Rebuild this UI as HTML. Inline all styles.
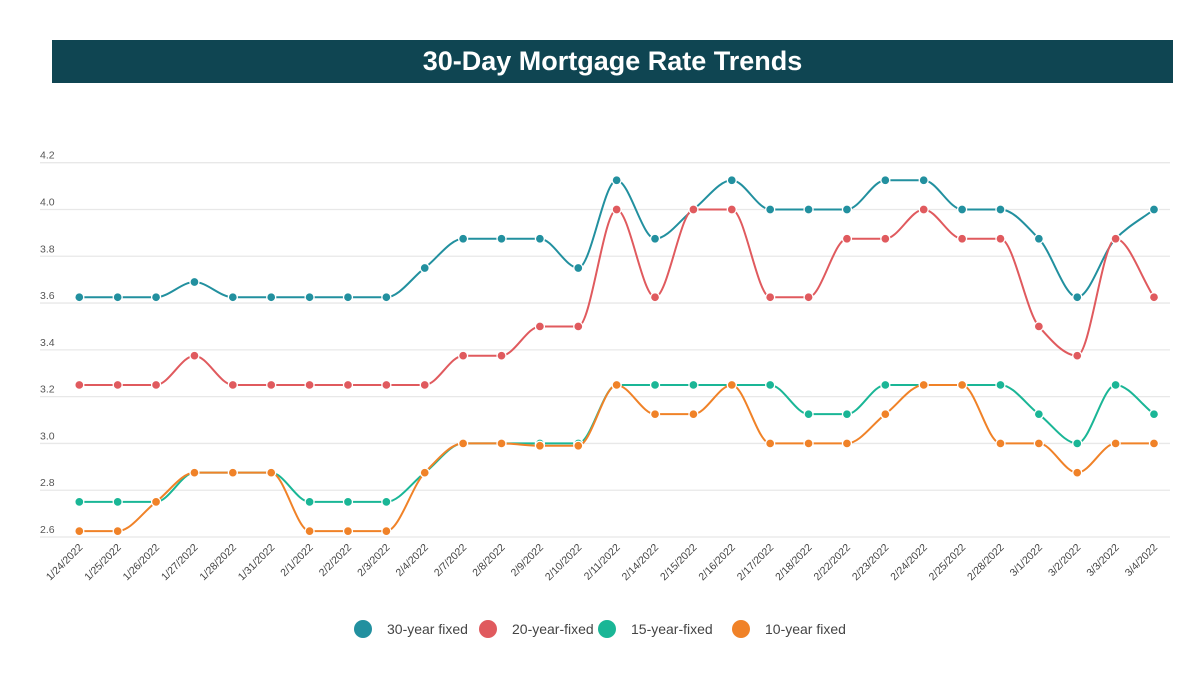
<!DOCTYPE html>
<html><head><meta charset="utf-8"><style>
body{margin:0;background:#fff;font-family:"Liberation Sans",sans-serif;}
#wrap{position:relative;width:1200px;height:676px;overflow:hidden;}
#title{position:absolute;left:52px;top:40px;width:1121px;height:43px;background:#0f4552;color:#fff;font-weight:bold;font-size:27px;text-align:center;line-height:43px;}
</style></head><body>
<div id="wrap">
<div id="title">30-Day Mortgage Rate Trends</div>
<svg id="chart" width="1200" height="676" style="position:absolute;left:0;top:0"></svg>
</div>
<script>
const categories=["1/24/2022","1/25/2022","1/26/2022","1/27/2022","1/28/2022","1/31/2022","2/1/2022","2/2/2022","2/3/2022","2/4/2022","2/7/2022","2/8/2022","2/9/2022","2/10/2022","2/11/2022","2/14/2022","2/15/2022","2/16/2022","2/17/2022","2/18/2022","2/22/2022","2/23/2022","2/24/2022","2/25/2022","2/28/2022","3/1/2022","3/2/2022","3/3/2022","3/4/2022"];
const fixed30=[3.625,3.625,3.625,3.69,3.625,3.625,3.625,3.625,3.625,3.75,3.875,3.875,3.875,3.75,4.125,3.875,4.0,4.125,4.0,4.0,4.0,4.125,4.125,4.0,4.0,3.875,3.625,3.875,4.0];
const fixed20=[3.25,3.25,3.25,3.375,3.25,3.25,3.25,3.25,3.25,3.25,3.375,3.375,3.5,3.5,4.0,3.625,4.0,4.0,3.625,3.625,3.875,3.875,4.0,3.875,3.875,3.5,3.375,3.875,3.625];
const fixed15=[2.75,2.75,2.75,2.875,2.875,2.875,2.75,2.75,2.75,2.875,3.0,3.0,3.0,3.0,3.25,3.25,3.25,3.25,3.25,3.125,3.125,3.25,3.25,3.25,3.25,3.125,3.0,3.25,3.125];
const fixed10=[2.625,2.625,2.75,2.875,2.875,2.875,2.625,2.625,2.625,2.875,3.0,3.0,2.99,2.99,3.25,3.125,3.125,3.25,3.0,3.0,3.0,3.125,3.25,3.25,3.0,3.0,2.875,3.0,3.0];
const yTicks=[2.6,2.8,3.0,3.2,3.4,3.6,3.8,4.0,4.2];
const seriesNames=["30-year fixed","20-year-fixed","15-year-fixed","10-year fixed"];
const seriesColors=["#22909f","#e05a5e","#1ab696","#f08228"];

const svg=document.getElementById('chart');
const NS='http://www.w3.org/2000/svg';
function mk(t,a){const e=document.createElementNS(NS,t);for(const k in a)e.setAttribute(k,a[k]);svg.appendChild(e);return e;}
const x0=79.3,x1=1154,yMin=2.6,yMax=4.2,yB=537,yT=162.7;
function xs(i){return x0+(x1-x0)*i/(categories.length-1);}
function ys(v){return yB-(v-yMin)/(yMax-yMin)*(yB-yT);}

yTicks.forEach(t=>{
  const g=mk('line',{x1:40,x2:1170,y1:ys(t),y2:ys(t),stroke:'#e8e8e8','stroke-width':1.3});
  
  
  const tx=mk('text',{x:40,y:ys(t)-4,'font-size':10.5,fill:'#555'});
  tx.textContent=t.toFixed(1);
  
  
});
categories.forEach((c,i)=>{
  const x=xs(i)+4,y=548;
  const tx=mk('text',{x:x,y:y,'font-size':10.5,fill:'#444','text-anchor':'end',transform:`rotate(-45 ${x} ${y})`});
  tx.textContent=c;
  
  
});

function monoPath(pts){
  const n=pts.length,d=[],m=new Array(n);
  for(let i=0;i<n-1;i++)d.push((pts[i+1][1]-pts[i][1])/(pts[i+1][0]-pts[i][0]));
  m[0]=d[0];m[n-1]=d[n-2];
  for(let i=1;i<n-1;i++){m[i]=(d[i-1]*d[i]<=0)?0:2/(1/d[i-1]+1/d[i]);}
  let p=`M${pts[0][0]},${pts[0][1]}`;
  for(let i=0;i<n-1;i++){
    const h=(pts[i+1][0]-pts[i][0])/3;
    p+=` C${pts[i][0]+h},${pts[i][1]+m[i]*h} ${pts[i+1][0]-h},${pts[i+1][1]-m[i+1]*h} ${pts[i+1][0]},${pts[i+1][1]}`;
  }
  return p;
}
const allSeries=[fixed30,fixed20,fixed15,fixed10];
allSeries.forEach((s,k)=>{
  const pts=s.map((v,i)=>[xs(i),ys(v)]);
  const p=mk('path',{d:monoPath(pts),fill:'none',stroke:seriesColors[k],'stroke-width':2});
  
  
  pts.forEach(q=>{
    const c=mk('circle',{cx:q[0],cy:q[1],r:4.5,fill:seriesColors[k],stroke:'#fff','stroke-width':1.3});
    
    
  });
});
const lx=[363,488,607,741];
seriesNames.forEach((n,k)=>{
  const c=mk('circle',{cx:lx[k],cy:629,r:9,fill:seriesColors[k]});
  
  
  const t=mk('text',{x:lx[k]+24,y:634,'font-size':14,fill:'#444'});
  t.textContent=n;
  
  
});
</script>
</body></html>
